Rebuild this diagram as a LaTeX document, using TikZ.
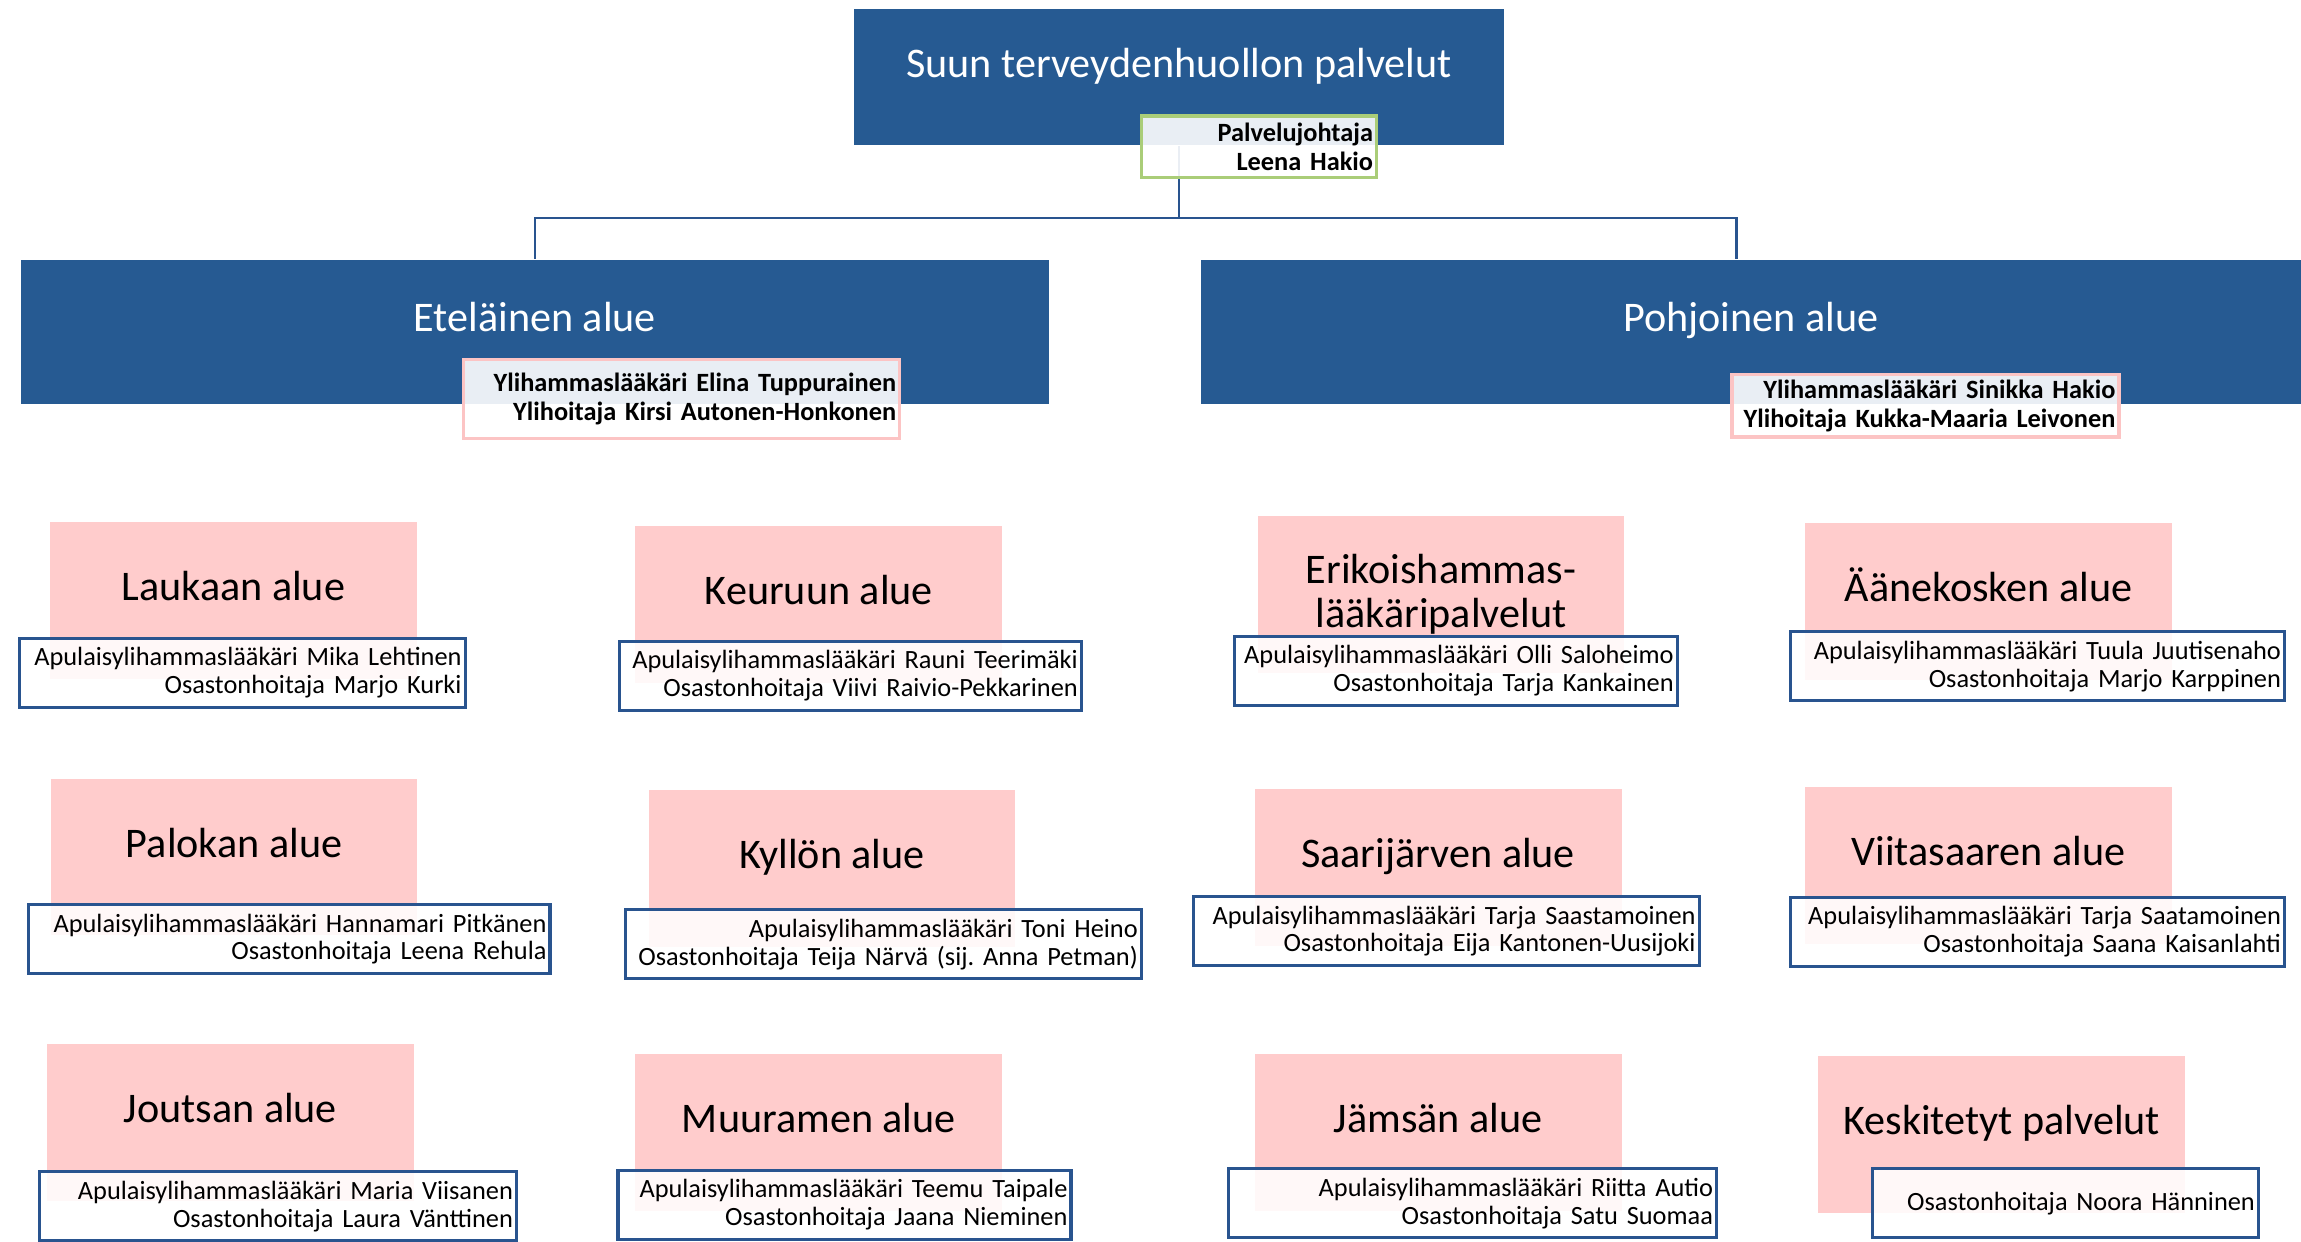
\documentclass[tikz,border=0pt]{standalone}
\usepackage{fontspec}
\setmainfont{Carlito}
\usepackage{tikz}
\frenchspacing

\definecolor{areablue}{RGB}{38,90,146}
\definecolor{lineblue}{RGB}{41,84,143}
\definecolor{unitpink}{RGB}{255,204,204}
\definecolor{bossgreen}{RGB}{170,205,120}
\definecolor{bosspink}{RGB}{252,196,196}

\begin{document}
\begin{tikzpicture}[
    x=0.014675cm, y=-0.014675cm,
    area/.style={fill=areablue,text=white,font=\fontsize{12}{12.5}\selectfont,inner sep=0pt,text height=.3cm,text depth=.3cm},
    boss/.style={fill=white,fill opacity=0.9,text opacity=1,line width=1pt,align=right,inner xsep=1pt,inner ysep=1pt,font=\fontsize{7.5}{8.3}\selectfont\bfseries},
    unit/.style={fill=unitpink,font=\fontsize{12}{12.5}\selectfont,align=center,inner sep=0pt,minimum width=3.669cm,minimum height=1.57cm},
    oneline/.style={text height=.3cm,text depth=.3cm},
    staff/.style={draw=lineblue,line width=0.9pt,fill=white,fill opacity=0.88,text opacity=1,align=right,inner xsep=1pt,inner ysep=1pt,minimum height=0.69cm,font=\fontsize{7.5}{7.9}\selectfont},
    conn/.style={draw=lineblue,line width=0.7pt}
]
\useasboundingbox (0,0) rectangle (1568,846);

\node[area,minimum width=6.501cm,minimum height=1.365cm] (suun) at (803.5,52.5) {Suun terveydenhuollon palvelut};
\node[area,minimum width=10.287cm,minimum height=1.438cm] (etela) at (364.5,226) {Eteläinen alue};
\node[area,minimum width=11.006cm,minimum height=1.438cm] (pohjoinen) at (1193,226) {Pohjoinen alue};

\draw[conn] (suun.south) -- ++(0,49) coordinate (haara);
\draw[conn] (haara) -| (etela.north);
\draw[conn] (haara) -| ([xshift=-4pt]pohjoinen.north);

\node[boss,draw=bossgreen,text width=2.28cm,minimum height=0.616cm] (johtaja) at (858,100) {Palvelujohtaja\\Leena Hakio};
\node[boss,draw=bosspink,text width=4.29cm,minimum height=0.79cm] (etelajohto) at (464.5,272) {Ylihammaslääkäri Elina Tuppurainen\\Ylihoitaja Kirsi Autonen-Honkonen};
\node[boss,draw=bosspink,text width=3.80cm,minimum height=0.63cm] (pohjoisjohto) at (1312,276.5) {Ylihammaslääkäri Sinikka Hakio\\Ylihoitaja Kukka-Maaria Leivonen};

\node[unit,oneline] (laukaa) at (159,409) {Laukaan alue};
\node[unit,oneline] (keuruu) at (558,412) {Keuruun alue};
\node[unit] (erikois) at (982,405) {Erikoishammas-\\lääkäripalvelut};
\node[unit,oneline] (aanekoski) at (1355,410) {Äänekosken alue};
\node[unit,oneline] (palokka) at (159.5,584) {Palokan alue};
\node[unit,oneline] (kylla) at (567,592) {Kyllön alue};
\node[unit,oneline] (saarijarvi) at (980,591) {Saarijärven alue};
\node[unit,oneline] (viitasaari) at (1355,590) {Viitasaaren alue};
\node[unit,oneline] (joutsa) at (157,765) {Joutsan alue};
\node[unit,oneline] (muurame) at (558,772) {Muuramen alue};
\node[unit,oneline] (jamsa) at (980,772) {Jämsän alue};
\node[unit,oneline] (keskitetyt) at (1364,773) {Keskitetyt palvelut};

\node[staff,text width=4.39cm] (laukaa-h) at (165,458.5) {Apulaisylihammaslääkäri Mika Lehtinen\\Osastonhoitaja Marjo Kurki};
\node[staff,text width=4.55cm] (keuruu-h) at (579.5,460.5) {Apulaisylihammaslääkäri Rauni Teerimäki\\Osastonhoitaja Viivi Raivio-Pekkarinen};
\node[staff,text width=4.36cm] (erikois-h) at (992,457) {Apulaisylihammaslääkäri Olli Saloheimo\\Osastonhoitaja Tarja Kankainen};
\node[staff,text width=4.87cm] (aanekoski-h) at (1388.5,454) {Apulaisylihammaslääkäri Tuula Juutisenaho\\Osastonhoitaja Marjo Karppinen};
\node[staff,text width=5.15cm] (palokka-h) at (197,640) {Apulaisylihammaslääkäri Hannamari Pitkänen\\Osastonhoitaja Leena Rehula};
\node[staff,text width=5.09cm] (kylla-h) at (602,643.5) {Apulaisylihammaslääkäri Toni Heino\\Osastonhoitaja Teija Närvä (sij. Anna Petman)};
\node[staff,text width=4.99cm] (saarijarvi-h) at (985.5,634.5) {Apulaisylihammaslääkäri Tarja Saastamoinen\\Osastonhoitaja Eija Kantonen-Uusijoki};
\node[staff,text width=4.87cm] (viitasaari-h) at (1388.5,635) {Apulaisylihammaslääkäri Tarja Saatamoinen\\Osastonhoitaja Saana Kaisanlahti};
\node[staff,text width=4.70cm] (joutsa-h) at (189.5,822) {Apulaisylihammaslääkäri Maria Viisanen\\Osastonhoitaja Laura Vänttinen};
\node[staff,text width=4.46cm] (muurame-h) at (575.5,821) {Apulaisylihammaslääkäri Teemu Taipale\\Osastonhoitaja Jaana Nieminen};
\node[staff,text width=4.81cm] (jamsa-h) at (1003.5,820) {Apulaisylihammaslääkäri Riitta Autio\\Osastonhoitaja Satu Suomaa};
\node[staff,text width=3.79cm] (keskitetyt-h) at (1407.5,820) {Osastonhoitaja Noora Hänninen};
\end{tikzpicture}
\end{document}
